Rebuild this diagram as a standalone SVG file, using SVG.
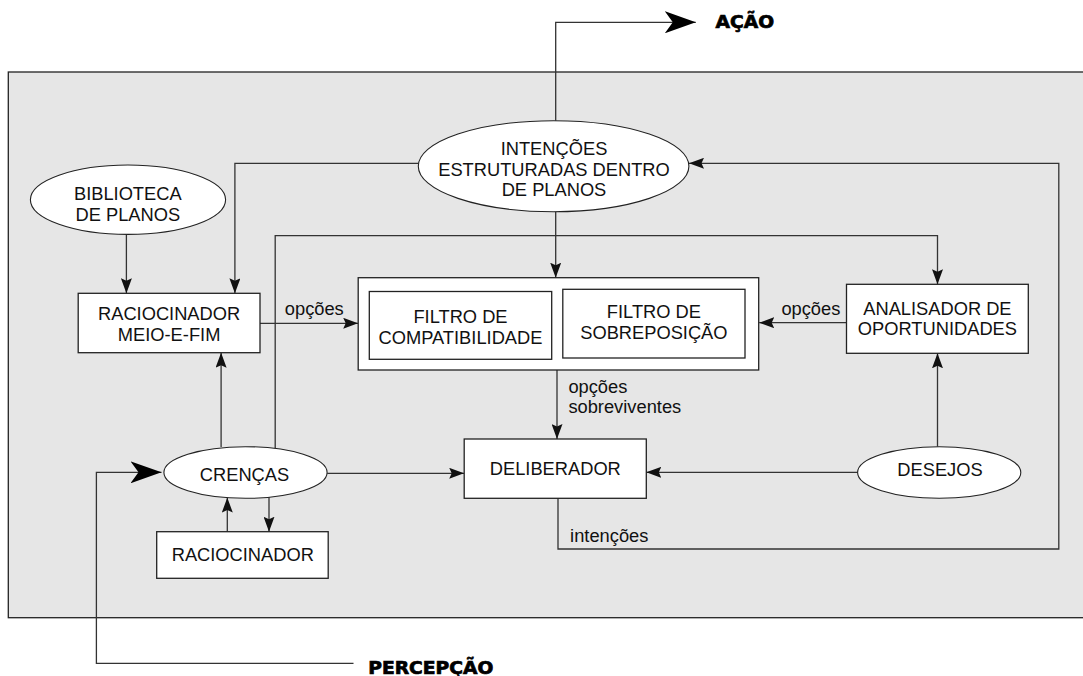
<svg xmlns="http://www.w3.org/2000/svg" width="1083" height="676" viewBox="0 0 1083 676">
<style>
.t{font-family:"Liberation Sans",Arial,sans-serif;font-size:18.3px;fill:#111;}
.c{text-anchor:middle;}
.lbl{font-family:"Liberation Sans",Arial,sans-serif;font-size:18.3px;fill:#111;}
.big{font-family:"DejaVu Sans","Liberation Sans",sans-serif;font-size:17px;font-weight:900;fill:#000;stroke:#000;stroke-width:0.7;}
.box{fill:#fff;stroke:#222;stroke-width:1.3;}
.ell{fill:#fff;stroke:#222;stroke-width:1.1;}
.ln{fill:none;stroke:#333;stroke-width:1.3;}
</style>
<defs>
<marker id="arr" viewBox="0 0 15 11" refX="15" refY="5.5" markerWidth="15" markerHeight="11" orient="auto" markerUnits="userSpaceOnUse"><path d="M0,0 L15,5.5 L0,11 L2.5,5.5 Z" fill="#111"/></marker>
<marker id="bigarr" viewBox="0 0 31 22" refX="31" refY="11" markerWidth="31" markerHeight="22" orient="auto" markerUnits="userSpaceOnUse"><path d="M0,0 L31,11 L0,22 L8,11 Z" fill="#000"/></marker>
</defs>
<rect x="8.3" y="72" width="1090" height="545.7" fill="#e6e6e6" stroke="#222" stroke-width="1.3"/>
<g id="connectors">
<path class="ln" d="M126.4,234.3 V293.3" marker-end="url(#arr)"/>
<path class="ln" d="M418.4,163.3 H234.9 V293.3" marker-end="url(#arr)"/>
<path class="ln" d="M555.7,211.7 V277.7" marker-end="url(#arr)"/>
<path class="ln" d="M555.7,120.7 V22.3 H695.8" marker-end="url(#bigarr)"/>
<path class="ln" d="M353.5,663.3 H96.4 V472.3 H161.5" marker-end="url(#bigarr)"/>
<path class="ln" d="M221.1,447 V352.7" marker-end="url(#arr)"/>
<path class="ln" d="M275.2,448.5 V235.7 H937.5 V284.3" marker-end="url(#arr)"/>
<path class="ln" d="M260,323.3 H358.2" marker-end="url(#arr)"/>
<path class="ln" d="M846.5,322.7 H759.2" marker-end="url(#arr)"/>
<path class="ln" d="M557,370 V439" marker-end="url(#arr)"/>
<path class="ln" d="M327.2,473.3 H464.2" marker-end="url(#arr)"/>
<path class="ln" d="M857.6,472.3 H646.3" marker-end="url(#arr)"/>
<path class="ln" d="M937.5,446.7 V353.3" marker-end="url(#arr)"/>
<path class="ln" d="M558,498.3 V549 H1058.8 V163.3 H689" marker-end="url(#arr)"/>
<path class="ln" d="M227.3,531.7 V497.6" marker-end="url(#arr)"/>
<path class="ln" d="M269,497.2 V531.7" marker-end="url(#arr)"/>
<text class="lbl" x="284.8" y="315">opções</text>
<text class="lbl" x="781.4" y="315">opções</text>
<text class="lbl" x="568.4" y="393.3">opções</text>
<text class="lbl" x="568.4" y="413.3">sobreviventes</text>
<text class="lbl" x="570.1" y="541.7">intenções</text>
</g>
<g id="acao"><text class="big" x="715.6" y="27.5" textLength="58.5" lengthAdjust="spacingAndGlyphs">AÇÃO</text></g>
<g id="percepcao"><text class="big" x="368.3" y="674" textLength="125" lengthAdjust="spacingAndGlyphs">PERCEPÇÃO</text></g>
<g id="intencoes">
<ellipse class="ell" cx="553.6" cy="166.2" rx="135.3" ry="45.5"/>
<text class="t c" x="554" y="155">INTENÇÕES</text>
<text class="t c" x="554" y="175.5">ESTRUTURADAS DENTRO</text>
<text class="t c" x="554" y="196">DE PLANOS</text>
</g>
<g id="biblioteca">
<ellipse class="ell" cx="128" cy="199.7" rx="97.6" ry="34.7"/>
<text class="t c" x="127.8" y="200">BIBLIOTECA</text>
<text class="t c" x="127.8" y="220.7">DE PLANOS</text>
</g>
<g id="meio-e-fim">
<rect class="box" x="78.2" y="293.3" width="181.8" height="59.4"/>
<text class="t c" x="169.1" y="320">RACIOCINADOR</text>
<text class="t c" x="169.1" y="340.5">MEIO-E-FIM</text>
</g>
<g id="filtros">
<rect class="box" x="358.2" y="277.7" width="400.5" height="92.3"/>
<g id="filtro-compatibilidade">
<rect class="box" x="369.3" y="291.5" width="182.4" height="67.8"/>
<text class="t c" x="460.5" y="323.3">FILTRO DE</text>
<text class="t c" x="460.5" y="344">COMPATIBILIDADE</text>
</g>
<g id="filtro-sobreposicao">
<rect class="box" x="562.8" y="289.3" width="182.2" height="68.7"/>
<text class="t c" x="653.9" y="318.3">FILTRO DE</text>
<text class="t c" x="653.9" y="338.5">SOBREPOSIÇÃO</text>
</g>
</g>
<g id="analisador">
<rect class="box" x="846.5" y="284.3" width="181.8" height="69"/>
<text class="t c" x="937.4" y="315">ANALISADOR DE</text>
<text class="t c" x="937.4" y="334.5">OPORTUNIDADES</text>
</g>
<g id="deliberador">
<rect class="box" x="464.2" y="439" width="182.1" height="59.3"/>
<text class="t c" x="555.3" y="475">DELIBERADOR</text>
</g>
<g id="desejos">
<ellipse class="ell" cx="939.2" cy="472.5" rx="81.6" ry="25.8"/>
<text class="t c" x="940" y="476">DESEJOS</text>
</g>
<g id="crencas">
<ellipse class="ell" cx="245.5" cy="472.5" rx="81.6" ry="25.8"/>
<text class="t c" x="244.5" y="480.5">CRENÇAS</text>
</g>
<g id="raciocinador">
<rect class="box" x="156.7" y="531.7" width="171.5" height="46.6"/>
<text class="t c" x="242.8" y="560.7">RACIOCINADOR</text>
</g>
</svg>
